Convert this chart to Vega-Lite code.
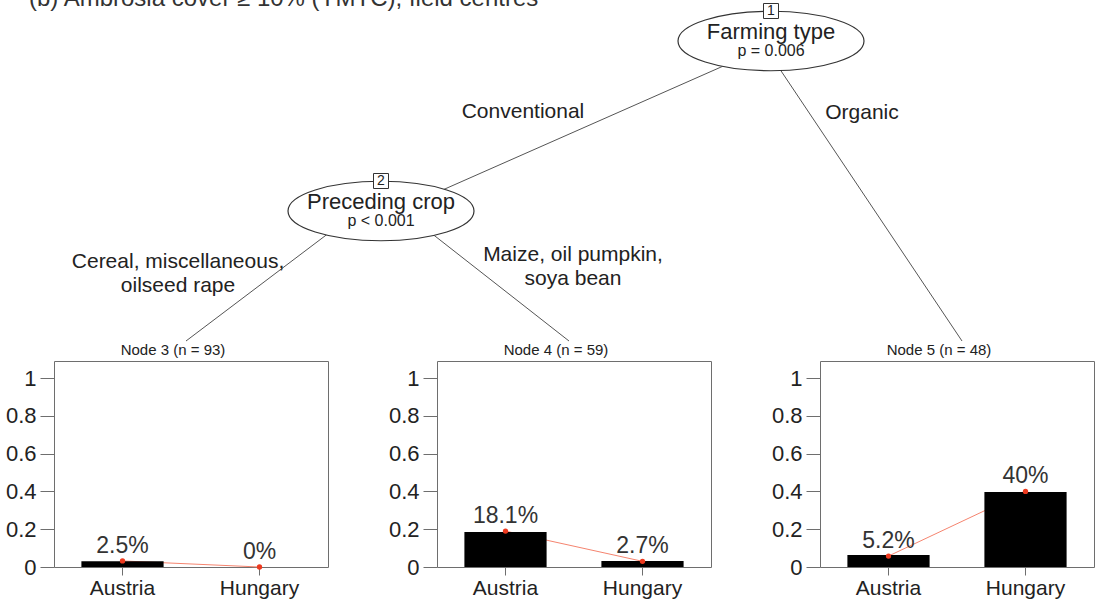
{
  "$schema": "https://vega.github.io/schema/vega-lite/v6.json",
  "background": "white",
  "padding": {"left": 4, "top": -13, "right": 0, "bottom": 0},
  "spacing": 0,
  "config": {"font": "Liberation Sans", "view": {"stroke": "#6e6e6e", "strokeWidth": 1}},
  "datasets": {
    "caption": [{"text": "(b) Ambrosia cover ≥ 10% (YMTC), field centres", "x": 28, "y": 6}],
    "nodes": [
      {"id": "1", "name": "Farming type", "p": "p = 0.006", "x": 770, "y": 41},
      {"id": "2", "name": "Preceding crop", "p": "p < 0.001", "x": 380, "y": 211}
    ],
    "edges": [
      {"x": 779, "y": 41, "x2": 394, "y2": 211},
      {"x": 760, "y": 41, "x2": 961, "y2": 341},
      {"x": 357, "y": 211, "x2": 185, "y2": 341},
      {"x": 402, "y": 211, "x2": 568, "y2": 341}
    ],
    "edgeLabels": [
      {"text": "Conventional", "x": 522, "y": 118},
      {"text": "Organic", "x": 861, "y": 119},
      {"text": ["Cereal, miscellaneous,", "oilseed rape"], "x": 177, "y": 268},
      {"text": ["Maize, oil pumpkin,", "soya bean"], "x": 572, "y": 261}
    ],
    "terminal": [
      {"node": "3", "country": "Austria", "bar": 0.03, "dot": 0.032, "label": "2.5%"},
      {"node": "3", "country": "Hungary", "bar": 0, "dot": 0, "label": "0%"},
      {"node": "4", "country": "Austria", "bar": 0.185, "dot": 0.19, "label": "18.1%"},
      {"node": "4", "country": "Hungary", "bar": 0.032, "dot": 0.03, "label": "2.7%"},
      {"node": "5", "country": "Austria", "bar": 0.063, "dot": 0.058, "label": "5.2%"},
      {"node": "5", "country": "Hungary", "bar": 0.397, "dot": 0.4, "label": "40%"}
    ]
  },
  "vconcat": [
    {
      "width": 1046,
      "height": 342,
      "view": {"stroke": null},
      "encoding": {
        "x": {"field": "x", "type": "quantitative", "scale": {"domain": [53, 1099], "nice": false, "zero": false}, "axis": null},
        "y": {"field": "y", "type": "quantitative", "scale": {"domain": [0, 342], "reverse": true, "nice": false, "zero": false}, "axis": null}
      },
      "layer": [
        {"data": {"name": "caption"}, "mark": {"type": "text", "align": "left", "baseline": "alphabetic", "fontSize": 24, "color": "#333"}, "encoding": {"text": {"field": "text"}}},
        {"data": {"name": "edges"}, "mark": {"type": "rule", "color": "#555", "strokeWidth": 1}, "encoding": {"x2": {"field": "x2"}, "y2": {"field": "y2"}}},
        {"data": {"name": "edgeLabels"}, "mark": {"type": "text", "align": "center", "baseline": "alphabetic", "fontSize": 21, "lineHeight": 24, "color": "#222"}, "encoding": {"text": {"field": "text"}}},
        {"data": {"name": "nodes"}, "mark": {"type": "point", "shape": "M-1,0A1,0.32,0,1,0,1,0A1,0.32,0,1,0,-1,0Z", "size": 34596, "filled": true, "fill": "white", "stroke": "#333", "strokeWidth": 1.2, "opacity": 1}},
        {"data": {"name": "nodes"}, "mark": {"type": "point", "shape": "square", "size": 225, "filled": true, "fill": "white", "stroke": "#333", "strokeWidth": 1, "opacity": 1, "yOffset": -30}},
        {"data": {"name": "nodes"}, "mark": {"type": "text", "dy": -30, "baseline": "middle", "fontSize": 14, "color": "#222"}, "encoding": {"text": {"field": "id"}}},
        {"data": {"name": "nodes"}, "mark": {"type": "text", "dy": -2, "baseline": "alphabetic", "fontSize": 22, "color": "#222"}, "encoding": {"text": {"field": "name"}}},
        {"data": {"name": "nodes"}, "mark": {"type": "text", "dy": 15, "baseline": "alphabetic", "fontSize": 16, "color": "#222"}, "encoding": {"text": {"field": "p"}}}
      ]
    },
    {
      "spacing": 58,
      "hconcat": [
        {
          "width": 274, "height": 206,
          "title": {"text": "Node 3 (n = 93)", "fontSize": 15, "fontWeight": "normal", "color": "#222", "offset": 3, "dx": -18, "anchor": "middle"},
          "data": {"name": "terminal"},
          "transform": [{"filter": "datum.node == '3'"}],
          "encoding": {
            "x": {"field": "country", "type": "nominal", "sort": ["Austria", "Hungary"], "scale": {"paddingInner": 0.4, "paddingOuter": 0.2},
              "axis": {"title": null, "domain": false, "tickSize": 8, "tickColor": "#6e6e6e", "labelAngle": 0, "labelFontSize": 21, "labelColor": "#222", "labelPadding": 2}}
          },
          "layer": [
            {"mark": {"type": "line", "color": "#f5846f", "strokeWidth": 1}, "encoding": {"y": {"field": "dot", "type": "quantitative", "scale": {"domain": [0, 1.09], "nice": false},
              "axis": {"values": [0, 0.2, 0.4, 0.6, 0.8, 1], "format": "~g", "title": null, "domain": false, "grid": false, "tickSize": 14, "tickColor": "#6e6e6e", "labelFontSize": 22, "labelColor": "#222", "labelPadding": 4}}}},
            {"mark": {"type": "bar", "color": "#000"}, "encoding": {"y": {"field": "bar", "type": "quantitative", "scale": {"domain": [0, 1.09], "nice": false}}}},
            {"mark": {"type": "point", "filled": true, "color": "#ee3a1f", "size": 28, "opacity": 1}, "encoding": {"y": {"field": "dot", "type": "quantitative"}}},
            {"mark": {"type": "text", "dy": -8, "baseline": "alphabetic", "fontSize": 23, "color": "#333"}, "encoding": {"y": {"field": "dot", "type": "quantitative"}, "text": {"field": "label"}}}
          ]
        },
        {
          "width": 274, "height": 206,
          "title": {"text": "Node 4 (n = 59)", "fontSize": 15, "fontWeight": "normal", "color": "#222", "offset": 3, "dx": -18, "anchor": "middle"},
          "data": {"name": "terminal"},
          "transform": [{"filter": "datum.node == '4'"}],
          "encoding": {
            "x": {"field": "country", "type": "nominal", "sort": ["Austria", "Hungary"], "scale": {"paddingInner": 0.4, "paddingOuter": 0.2},
              "axis": {"title": null, "domain": false, "tickSize": 8, "tickColor": "#6e6e6e", "labelAngle": 0, "labelFontSize": 21, "labelColor": "#222", "labelPadding": 2}}
          },
          "layer": [
            {"mark": {"type": "line", "color": "#f5846f", "strokeWidth": 1}, "encoding": {"y": {"field": "dot", "type": "quantitative", "scale": {"domain": [0, 1.09], "nice": false},
              "axis": {"values": [0, 0.2, 0.4, 0.6, 0.8, 1], "format": "~g", "title": null, "domain": false, "grid": false, "tickSize": 14, "tickColor": "#6e6e6e", "labelFontSize": 22, "labelColor": "#222", "labelPadding": 4}}}},
            {"mark": {"type": "bar", "color": "#000"}, "encoding": {"y": {"field": "bar", "type": "quantitative", "scale": {"domain": [0, 1.09], "nice": false}}}},
            {"mark": {"type": "point", "filled": true, "color": "#ee3a1f", "size": 28, "opacity": 1}, "encoding": {"y": {"field": "dot", "type": "quantitative"}}},
            {"mark": {"type": "text", "dy": -8, "baseline": "alphabetic", "fontSize": 23, "color": "#333"}, "encoding": {"y": {"field": "dot", "type": "quantitative"}, "text": {"field": "label"}}}
          ]
        },
        {
          "width": 274, "height": 206,
          "title": {"text": "Node 5 (n = 48)", "fontSize": 15, "fontWeight": "normal", "color": "#222", "offset": 3, "dx": -18, "anchor": "middle"},
          "data": {"name": "terminal"},
          "transform": [{"filter": "datum.node == '5'"}],
          "encoding": {
            "x": {"field": "country", "type": "nominal", "sort": ["Austria", "Hungary"], "scale": {"paddingInner": 0.4, "paddingOuter": 0.2},
              "axis": {"title": null, "domain": false, "tickSize": 8, "tickColor": "#6e6e6e", "labelAngle": 0, "labelFontSize": 21, "labelColor": "#222", "labelPadding": 2}}
          },
          "layer": [
            {"mark": {"type": "line", "color": "#f5846f", "strokeWidth": 1}, "encoding": {"y": {"field": "dot", "type": "quantitative", "scale": {"domain": [0, 1.09], "nice": false},
              "axis": {"values": [0, 0.2, 0.4, 0.6, 0.8, 1], "format": "~g", "title": null, "domain": false, "grid": false, "tickSize": 14, "tickColor": "#6e6e6e", "labelFontSize": 22, "labelColor": "#222", "labelPadding": 4}}}},
            {"mark": {"type": "bar", "color": "#000"}, "encoding": {"y": {"field": "bar", "type": "quantitative", "scale": {"domain": [0, 1.09], "nice": false}}}},
            {"mark": {"type": "point", "filled": true, "color": "#ee3a1f", "size": 28, "opacity": 1}, "encoding": {"y": {"field": "dot", "type": "quantitative"}}},
            {"mark": {"type": "text", "dy": -8, "baseline": "alphabetic", "fontSize": 23, "color": "#333"}, "encoding": {"y": {"field": "dot", "type": "quantitative"}, "text": {"field": "label"}}}
          ]
        }
      ]
    }
  ]
}
